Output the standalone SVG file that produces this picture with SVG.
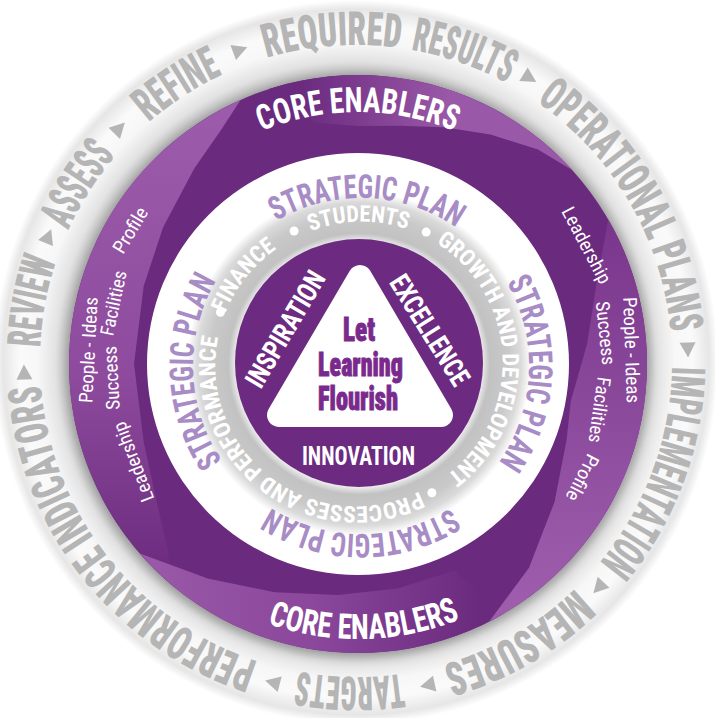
<svg xmlns="http://www.w3.org/2000/svg" width="715" height="718" viewBox="0 0 715 718">
<style>
.outer{font-family:Roboto,"Open Sans","Liberation Sans",sans-serif;font-stretch:75%;font-weight:900;font-size:47px;fill:#b5b5b5}
.sp{font-family:Roboto,"Open Sans","Liberation Sans",sans-serif;font-stretch:75%;font-weight:700;font-size:33px;fill:#a88cc6;text-anchor:middle}
.ce{font-family:Roboto,"Open Sans","Liberation Sans",sans-serif;font-stretch:75%;font-weight:700;font-size:35px;fill:#fff;text-anchor:middle}
.gr{font-family:Roboto,"Open Sans","Liberation Sans",sans-serif;font-stretch:75%;font-weight:700;font-size:23px;fill:#fff}
.sm{font-family:Roboto,"Open Sans","Liberation Sans",sans-serif;font-stretch:75%;font-weight:400;font-size:19px;fill:#fff;text-anchor:middle}
.val{font-family:Roboto,"Open Sans","Liberation Sans",sans-serif;font-stretch:75%;font-weight:700;font-size:28px;fill:#fff;text-anchor:middle}
.mot{font-family:Roboto,"Open Sans","Liberation Sans",sans-serif;font-stretch:75%;font-weight:900;font-size:33px;fill:#7a2a8c;stroke:#7a2a8c;stroke-width:0.9;text-anchor:middle}
.arr{fill:#b5b5b5}
</style>
<defs>
<radialGradient id="gOuter" gradientUnits="userSpaceOnUse" cx="356" cy="362" r="362">
<stop offset="0.78" stop-color="#b0b0b0"/>
<stop offset="0.83" stop-color="#e2e2e2"/>
<stop offset="0.88" stop-color="#f7f7f7"/>
<stop offset="0.93" stop-color="#fafafa"/>
<stop offset="0.975" stop-color="#e6e6e6"/>
<stop offset="1" stop-color="#ffffff"/>
</radialGradient>
<radialGradient id="gGray" gradientUnits="userSpaceOnUse" cx="359" cy="364" r="172">
<stop offset="0.71" stop-color="#f2f2f2"/>
<stop offset="0.76" stop-color="#c2c2c2"/>
<stop offset="0.87" stop-color="#c9c9c9"/>
<stop offset="0.94" stop-color="#dadada"/>
<stop offset="1" stop-color="#ffffff"/>
</radialGradient>
<linearGradient id="gTop" gradientUnits="userSpaceOnUse" x1="300" y1="0" x2="450" y2="0">
<stop offset="0" stop-color="#6a2a7e"/>
<stop offset="1" stop-color="#9a58a8"/>
</linearGradient>
<linearGradient id="gLeft" gradientUnits="userSpaceOnUse" x1="0" y1="100" x2="0" y2="560">
<stop offset="0" stop-color="#9d5cab"/>
<stop offset="0.6" stop-color="#8e4b9e"/>
<stop offset="1" stop-color="#6e2d80"/>
</linearGradient>
<linearGradient id="gBot" gradientUnits="userSpaceOnUse" x1="150" y1="0" x2="480" y2="0">
<stop offset="0" stop-color="#9a58a8"/>
<stop offset="0.5" stop-color="#8a479b"/>
<stop offset="1" stop-color="#6a2a7e"/>
</linearGradient>
<linearGradient id="gRight" gradientUnits="userSpaceOnUse" x1="0" y1="230" x2="0" y2="600">
<stop offset="0" stop-color="#7a378d"/>
<stop offset="1" stop-color="#9e5dac"/>
</linearGradient>
<filter id="blur" x="-20%" y="-20%" width="140%" height="140%"><feGaussianBlur stdDeviation="6"/></filter>
<path id="po" d="M40,361 A316,316 0 1 1 672,361 A316,316 0 1 1 40,361"/>
<path id="pg" d="M297.2,237.3 A141,141 0 1 1 420.8,490.7 A141,141 0 1 1 297.2,237.3"/>
<path id="ps" d="M242.2,247.2 A168,168 0 1 1 479.8,484.8 A168,168 0 1 1 242.2,247.2"/>
<path id="pct" d="M106,364 A252,252 0 0 1 610,364"/>
<path id="pcb" d="M83,364 A275,275 0 0 0 633,364"/>
<polygon id="tri" points="-7,-8 8,0 -7,8"/>
</defs>

<rect width="715" height="718" fill="#fff"/>

<g id="outer-ring">
<circle cx="356" cy="362" r="362" fill="url(#gOuter)"/>
<g id="outer-labels">
<text class="outer"><textPath href="#po" startOffset="13.8" textLength="88.2" lengthAdjust="spacingAndGlyphs">REVIEW</textPath></text>
<text class="outer"><textPath href="#po" startOffset="135.1" textLength="88.2" lengthAdjust="spacingAndGlyphs">ASSESS</textPath></text>
<text class="outer"><textPath href="#po" startOffset="270.2" textLength="88.2" lengthAdjust="spacingAndGlyphs">REFINE</textPath></text>
<text class="outer"><textPath href="#po" startOffset="405.4" textLength="135.1" lengthAdjust="spacingAndGlyphs">REQUIRED</textPath></text>
<text class="outer"><textPath href="#po" startOffset="551.5" textLength="102" lengthAdjust="spacingAndGlyphs">RESULTS</textPath></text>
<text class="outer"><textPath href="#po" startOffset="688.3" textLength="275.2" lengthAdjust="spacingAndGlyphs">OPERATIONAL PLANS</textPath></text>
<text class="outer"><textPath href="#po" startOffset="998.3" textLength="212.3" lengthAdjust="spacingAndGlyphs">IMPLEMENTATION</textPath></text>
<text class="outer"><textPath href="#po" startOffset="1246.4" textLength="154.4" lengthAdjust="spacingAndGlyphs">MEASURES</textPath></text>
<text class="outer"><textPath href="#po" startOffset="1442.2" textLength="104.8" lengthAdjust="spacingAndGlyphs">TARGETS</textPath></text>
<text class="outer"><textPath href="#po" startOffset="1588.4" textLength="372.3" lengthAdjust="spacingAndGlyphs">PERFORMANCE INDICATORS</textPath></text>
</g>
<g id="outer-arrows" class="arr">
<use href="#tri" transform="rotate(268 356 361) translate(356 29)"/>
<use href="#tri" transform="rotate(292 356 361) translate(356 29)"/>
<use href="#tri" transform="rotate(314.5 356 361) translate(356 29)"/>
<use href="#tri" transform="rotate(339.5 356 361) translate(356 29)"/>
<use href="#tri" transform="rotate(31.5 356 361) translate(356 29)"/>
<use href="#tri" transform="rotate(88 356 361) translate(356 29)"/>
<use href="#tri" transform="rotate(133 356 361) translate(356 29)"/>
<use href="#tri" transform="rotate(167.5 356 361) translate(356 29)"/>
<use href="#tri" transform="rotate(194.5 356 361) translate(356 29)"/>
</g>
</g>

<g id="core-enablers-ring">
<circle cx="358" cy="366" r="291" fill="#777" opacity="0.6" filter="url(#blur)"/>
<circle cx="358" cy="364" r="212" fill="#fff"/>
<path d="M69,364 a289,289 0 1,0 578,0 a289,289 0 1,0 -578,0 Z M147,364 a211,211 0 1,0 422,0 a211,211 0 1,0 -422,0 Z" fill="#6a2a7e" fill-rule="evenodd"/>
<path d="M268.7,89.1 A289,289 0 0 1 572.8,170.6 L538,149.5 L490.5,134.5 L444.2,127.2 L400,125.7 L358,126 L315.5,122.7 Z" fill="url(#gTop)"/>
<path d="M240.5,100 L222,128.4 L194.1,168.7 L163,227.5 L143.7,286 L134,364 L143.7,442 L157.3,504.5 L168.5,553.5 L172.2,585.4 A289,289 0 0 1 240.5,100 Z" fill="url(#gLeft)"/>
<path d="M139.9,553.6 L207.7,578.6 L274.9,592.3 L337.8,595.1 L397.6,588.5 L454.4,570.6 L502.5,614.3 A289,289 0 0 1 139.9,553.6 Z" fill="url(#gBot)"/>
<path d="M608.3,219.5 A289,289 0 0 1 489.2,621.5 L529,567.8 L554.6,501.7 L566.6,439.9 L570.7,401.5 L587.1,343.9 L597.6,276.8 Z" fill="url(#gRight)"/>
<text class="ce"><textPath href="#pct" startOffset="50%" textLength="198" lengthAdjust="spacingAndGlyphs">CORE ENABLERS</textPath></text>
<text class="ce"><textPath href="#pcb" startOffset="438" textLength="197" lengthAdjust="spacingAndGlyphs">CORE ENABLERS</textPath></text>
</g>

<g id="enablers-right">
<text class="sm" transform="translate(587 245) rotate(62)" y="7" textLength="84" lengthAdjust="spacingAndGlyphs">Leadership</text>
<text class="sm" transform="translate(632 350) rotate(88)" y="7" textLength="106" lengthAdjust="spacingAndGlyphs">People - Ideas</text>
<text class="sm" transform="translate(606 333) rotate(84)" y="7" textLength="64" lengthAdjust="spacingAndGlyphs">Success</text>
<text class="sm" transform="translate(600 410) rotate(98)" y="7" textLength="66" lengthAdjust="spacingAndGlyphs">Facilities</text>
<text class="sm" transform="translate(583 478) rotate(117)" y="7" textLength="50" lengthAdjust="spacingAndGlyphs">Profile</text>
</g>
<g id="enablers-left">
<text class="sm" transform="translate(88 350) rotate(-87)" y="7" textLength="106" lengthAdjust="spacingAndGlyphs">People - Ideas</text>
<text class="sm" transform="translate(111 378) rotate(-93)" y="7" textLength="64" lengthAdjust="spacingAndGlyphs">Success</text>
<text class="sm" transform="translate(113 303) rotate(-78)" y="7" textLength="66" lengthAdjust="spacingAndGlyphs">Facilities</text>
<text class="sm" transform="translate(130 230) rotate(-59)" y="7" textLength="50" lengthAdjust="spacingAndGlyphs">Profile</text>
<text class="sm" transform="translate(133 462) rotate(-111)" y="7" textLength="84" lengthAdjust="spacingAndGlyphs">Leadership</text>
</g>

<g id="focus-ring">
<circle cx="359" cy="364" r="172" fill="url(#gGray)"/>
<text class="gr"><textPath href="#pg" startOffset="14.8" textLength="98.4" lengthAdjust="spacingAndGlyphs">STUDENTS</textPath></text>
<text class="gr"><textPath href="#pg" startOffset="145.2" textLength="273.2" lengthAdjust="spacingAndGlyphs">GROWTH AND DEVELOPMENT</textPath></text>
<text class="gr"><textPath href="#pg" startOffset="450.3" textLength="315" lengthAdjust="spacingAndGlyphs">PROCESSES AND PERFORMANCE</textPath></text>
<text class="gr"><textPath href="#pg" startOffset="790" textLength="83.7" lengthAdjust="spacingAndGlyphs">FINANCE</textPath></text>
<g fill="#fff">
<circle cx="294.1" cy="231" r="4.5"/>
<circle cx="426.2" cy="232.1" r="4.5"/>
<circle cx="431.9" cy="492.8" r="4.5"/>
<circle cx="220.4" cy="312.2" r="4.5"/>
</g>
</g>

<g id="strategic-plan-ring">
<text class="sp"><textPath href="#ps" startOffset="137.8" textLength="190" lengthAdjust="spacingAndGlyphs">STRATEGIC PLAN</textPath></text>
<text class="sp"><textPath href="#ps" startOffset="403.2" textLength="190" lengthAdjust="spacingAndGlyphs">STRATEGIC PLAN</textPath></text>
<text class="sp"><textPath href="#ps" startOffset="659.7" textLength="190" lengthAdjust="spacingAndGlyphs">STRATEGIC PLAN</textPath></text>
<text class="sp"><textPath href="#ps" startOffset="917.7" textLength="190" lengthAdjust="spacingAndGlyphs">STRATEGIC PLAN</textPath></text>
</g>

<g id="core-values">
<circle cx="359" cy="363" r="124" fill="#6c2a80"/>
<path d="M360,277 L279,415 L441,415 Z" fill="#fff" stroke="#fff" stroke-width="24" stroke-linejoin="round"/>
<text class="val" transform="translate(285 329) rotate(-59.5)" y="10" textLength="130" lengthAdjust="spacingAndGlyphs">INSPIRATION</text>
<text class="val" transform="translate(430 330) rotate(58)" y="10" textLength="125" lengthAdjust="spacingAndGlyphs">EXCELLENCE</text>
<text class="val" x="358.5" y="465" style="font-size:25px" textLength="113" lengthAdjust="spacingAndGlyphs">INNOVATION</text>
</g>

<g id="motto">
<text class="mot" x="359" y="341" textLength="32" lengthAdjust="spacingAndGlyphs">Let</text>
<text class="mot" x="360.5" y="376" textLength="85" lengthAdjust="spacingAndGlyphs">Learning</text>
<text class="mot" x="358" y="410" textLength="80" lengthAdjust="spacingAndGlyphs">Flourish</text>
</g>
</svg>
